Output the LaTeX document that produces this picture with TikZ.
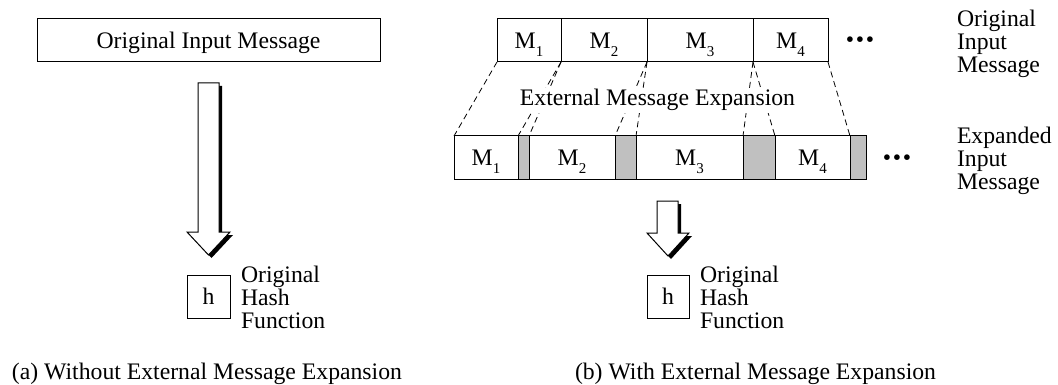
\documentclass[tikz,border=0pt]{standalone}
\usepackage{fontspec}
\setmainfont{Liberation Serif}
\definecolor{padgray}{RGB}{192,192,192}
\newcommand\Msub[1]{M\raisebox{-8pt}{\fontsize{15}{15}\selectfont #1}}
\begin{document}
\begin{tikzpicture}[x=1pt,y=-1pt,
  txt/.style={font=\fontsize{23.7}{23.2}\selectfont, inner sep=0pt, outer sep=0pt},
  box/.style={draw, line width=1pt, inner sep=0pt, outer sep=0pt,
    font=\fontsize{23.7}{23.2}\selectfont, text height=16pt, text depth=0pt},
  pad/.style={box, fill=padgray},
  link/.style={line width=0.8pt, dash pattern=on 6pt off 4pt},
  blockarrow/.style={draw, line width=1pt, fill=white, line join=miter},
  arrowshadow/.style={fill=black},
  dots/.style={txt, anchor=base}]
\useasboundingbox (0,0) rectangle (1058,385);

% ---------- (a) ----------
\node[box, minimum width=343, minimum height=43] (orig) at (208.5,40.5) {Original Input Message};
\begin{scope}[shift={(3,3)}]
  \fill[arrowshadow] (198,83) -- (219,83) -- (219,232) -- (230,232) -- (208.5,255) -- (187,232) -- (198,232) -- cycle;
\end{scope}
\draw[blockarrow] (198,83) -- (219,83) -- (219,232) -- (230,232) -- (208.5,255) -- (187,232) -- (198,232) -- cycle;
\node[box, minimum width=43, minimum height=43] (h1) at (208.5,296.5) {h};
\node[txt, anchor=north west, align=left] (hl1) at (241,265.7) {Original\\Hash\\Function};
\node[txt, anchor=base west] (capa) at (12,379) {(a) Without External Message Expansion};

% ---------- (b) ----------
\node[box, minimum width=64, minimum height=43, anchor=west] (t1) at (497,40.5) {\Msub{1}};
\node[box, minimum width=86, minimum height=43, anchor=west] (t2) at (t1.east) {\Msub{2}};
\node[box, minimum width=106, minimum height=43, anchor=west] (t3) at (t2.east) {\Msub{3}};
\node[box, minimum width=75, minimum height=43, anchor=west] (t4) at (t3.east) {\Msub{4}};
\node[dots] (dt) at (860,48) {\textbullet\hspace{1.7pt}\textbullet\hspace{1.7pt}\textbullet};

\node[box, minimum width=64, minimum height=44, anchor=west] (b1) at (454,158) {\Msub{1}};
\node[pad, minimum width=11, minimum height=44, anchor=west] (g1) at (b1.east) {};
\node[box, minimum width=86, minimum height=44, anchor=west] (b2) at (g1.east) {\Msub{2}};
\node[pad, minimum width=21, minimum height=44, anchor=west] (g2) at (b2.east) {};
\node[box, minimum width=107, minimum height=44, anchor=west] (b3) at (g2.east) {\Msub{3}};
\node[pad, minimum width=32, minimum height=44, anchor=west] (g3) at (b3.east) {};
\node[box, minimum width=75, minimum height=44, anchor=west] (b4) at (g3.east) {\Msub{4}};
\node[pad, minimum width=16, minimum height=44, anchor=west] (g4) at (b4.east) {};
\node[dots] (db) at (897,165) {\textbullet\hspace{1.7pt}\textbullet\hspace{1.7pt}\textbullet};

\draw[link] (t1.south west) -- (b1.north west);
\draw[link] (t1.south east) -- (b1.north east);
\draw[link] (t2.south west) -- (b2.north west);
\draw[link] (t2.south east) -- (b2.north east);
\draw[link] (t3.south west) -- (b3.north west);
\draw[link] (t3.south east) -- (b3.north east);
\draw[link] (t4.south west) -- (b4.north west);
\draw[link] (t4.south east) -- (b4.north east);

\node[txt, anchor=base, fill=white, inner sep=2pt] (ext) at (657.5,106) {External Message Expansion};

\node[txt, anchor=north west, align=left] (lab1) at (957,9.7) {Original\\Input\\Message};
\node[txt, anchor=north west, align=left] (lab2) at (957,126.7) {Expanded\\Input\\Message};

\begin{scope}[shift={(3,3)}]
  \fill[arrowshadow] (657,201) -- (678,201) -- (678,233) -- (689,233) -- (668,256) -- (647,233) -- (657,233) -- cycle;
\end{scope}
\draw[blockarrow] (657,201) -- (678,201) -- (678,233) -- (689,233) -- (668,256) -- (647,233) -- (657,233) -- cycle;
\node[box, minimum width=42, minimum height=43] (h2) at (668,296.5) {h};
\node[txt, anchor=north west, align=left] (hl2) at (700,265.7) {Original\\Hash\\Function};
\node[txt, anchor=base west] (capb) at (575,379) {(b) With External Message Expansion};
\end{tikzpicture}
\end{document}
